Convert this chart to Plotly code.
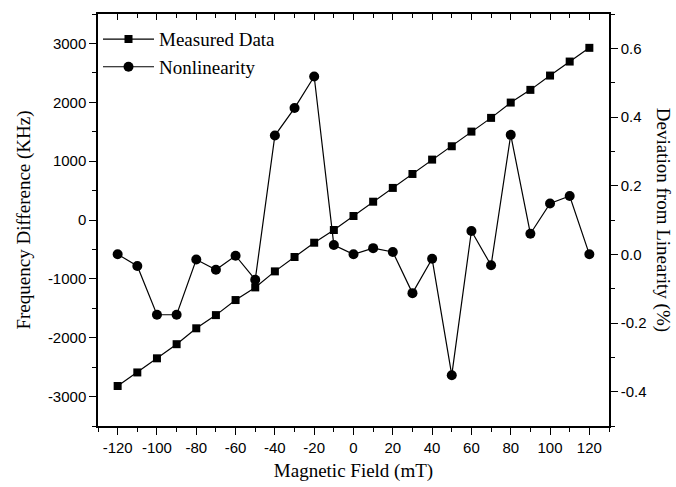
import plotly.graph_objects as go

field_mT = [-120, -110, -100, -90, -80, -70, -60, -50, -40, -30, -20, -10, 0,
            10, 20, 30, 40, 50, 60, 70, 80, 90, 100, 110, 120]
measured_khz = [-2820, -2590, -2350, -2110, -1840, -1616, -1360, -1145, -873, -629, -386, -170, 68,
                311, 545, 782, 1026, 1253, 1502, 1735, 1995, 2211, 2454, 2692, 2925]
nonlinearity_pct = [0.0, -0.034, -0.176, -0.176, -0.015, -0.045, -0.004, -0.074, 0.346, 0.426, 0.518, 0.027, 0.0,
                    0.018, 0.007, -0.113, -0.013, -0.352, 0.068, -0.032, 0.348, 0.060, 0.148, 0.170, 0.0]

x_ticks = [-120, -100, -80, -60, -40, -20, 0, 20, 40, 60, 80, 100, 120]
x_labels = ["-120", "-100", "-80", "-60", "-40", "-20", "0", "20", "40", "60", "80", "100", "120"]
y_ticks = [-3000, -2000, -1000, 0, 1000, 2000, 3000]
y_labels = ["-3000", "-2000", "-1000", "0", "1000", "2000", "3000"]
y2_ticks = [-0.4, -0.2, 0.0, 0.2, 0.4, 0.6]
y2_labels = ["-0.4", "-0.2", "0.0", "0.2", "0.4", "0.6"]

serif = "Liberation Serif, Times New Roman, serif"
sans = "Liberation Sans, Arial, sans-serif"

fig = go.Figure()
fig.add_trace(go.Scatter(
    x=field_mT, y=measured_khz, name="Measured Data", mode="lines+markers",
    line=dict(color="black", width=1.2),
    marker=dict(symbol="square", size=8, color="black"),
    xaxis="x", yaxis="y"))
fig.add_trace(go.Scatter(
    x=field_mT, y=nonlinearity_pct, name="Nonlinearity", mode="lines+markers",
    line=dict(color="black", width=1.2),
    marker=dict(symbol="circle", size=10, color="black"),
    xaxis="x", yaxis="y2"))
# invisible helper trace so the mirrored top axis is drawn
fig.add_trace(go.Scatter(x=[field_mT[0]], y=[measured_khz[0]], mode="markers",
                         marker=dict(opacity=0), showlegend=False, hoverinfo="skip",
                         xaxis="x2", yaxis="y"))

axis_common = dict(showline=True, linecolor="black", linewidth=1.5, showgrid=False,
                   zeroline=False, tickcolor="black", tickwidth=1.3, automargin=False)
minor_common = dict(tickcolor="black", tickwidth=1.3, ticklen=4)

fig.update_layout(
    width=676, height=487,
    margin=dict(l=98, r=67, t=14, b=61),
    paper_bgcolor="white", plot_bgcolor="white",
    showlegend=True,
    legend=dict(x=0.0, y=0.985, xanchor="left", yanchor="top",
                font=dict(family=serif, size=19, color="black"),
                bgcolor="rgba(0,0,0,0)", itemwidth=51, tracegroupgap=0),
    xaxis=dict(**axis_common, range=[-130, 130], tickmode="array", tickvals=x_ticks, ticktext=x_labels,
               ticks="outside", ticklen=7,
               minor=dict(dtick=10, tick0=0, ticks="outside", **minor_common),
               tickfont=dict(family=sans, size=15, color="black"),
               title=dict(text="Magnetic Field (mT)", font=dict(family=serif, size=19, color="black"), standoff=9)),
    xaxis2=dict(**axis_common, overlaying="x", matches="x", side="top", anchor="y",
                range=[-130, 130], tickvals=x_ticks, ticks="inside", ticklen=6,
                minor=dict(dtick=10, tick0=0, ticks="inside", **minor_common),
                showticklabels=False),
    yaxis=dict(**axis_common, range=[-3500, 3500], tickmode="array", tickvals=y_ticks, ticktext=y_labels,
               ticks="outside", ticklen=7,
               minor=dict(dtick=500, tick0=0, ticks="outside", **minor_common),
               tickfont=dict(family=sans, size=15, color="black"),
               title=dict(text="Frequency Difference (KHz)", font=dict(family=serif, size=19, color="black"), standoff=12)),
    yaxis2=dict(**axis_common, overlaying="y", side="right", anchor="x",
                range=[-0.5, 0.7], tickmode="array", tickvals=y2_ticks, ticktext=y2_labels,
                ticks="outside", ticklen=7,
                minor=dict(dtick=0.1, tick0=0, ticks="outside", **minor_common),
                tickfont=dict(family=sans, size=15, color="black")),
    annotations=[dict(text="Deviation from Linearity (%)", textangle=90,
                      xref="paper", yref="paper", x=1.106, y=0.5,
                      xanchor="center", yanchor="middle", showarrow=False,
                      font=dict(family=serif, size=19, color="black"))],
)

fig.write_html("out.html", config={"displayModeBar": False},
               post_script="document.body.style.margin='0';document.body.style.overflow='hidden';")
